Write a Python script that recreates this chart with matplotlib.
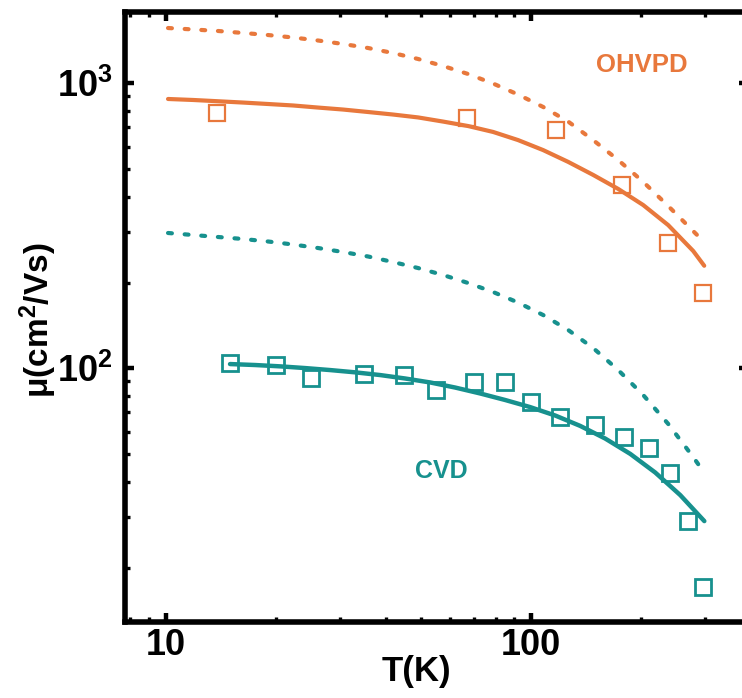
import matplotlib
matplotlib.use("Agg")
import matplotlib.pyplot as plt
from matplotlib.ticker import LogLocator, NullFormatter, FixedLocator, FixedFormatter

plt.rcParams['font.family'] = ['Liberation Sans', 'DejaVu Sans']
plt.rcParams['font.weight'] = 'bold'
plt.rcParams['mathtext.fontset'] = 'custom'
plt.rcParams['mathtext.rm'] = 'Liberation Sans:bold'
plt.rcParams['mathtext.bf'] = 'Liberation Sans:bold'
plt.rcParams['mathtext.it'] = 'Liberation Sans:bold:italic'
plt.rcParams['mathtext.default'] = 'rm'

# ---------------- data ----------------
T_ohvpd = [13.8, 67, 117, 178, 238, 295]
mu_ohvpd = [787, 756, 686, 440, 275, 184]

T_cvd = [15, 20, 25, 35, 45, 55, 70, 85, 100, 120, 150, 180, 210, 240, 270, 295]
mu_cvd = [104, 102.7, 92.5, 95.5, 95, 83.9, 89.5, 89.5, 76.2, 67.5, 63.2, 57.4,
          52.5, 42.9, 29.1, 17.1]

T_ohvpd_fit = [10.14, 11.87, 13.90, 16.27, 19.05, 22.31, 26.12, 30.58, 35.81, 41.92,
               49.09, 57.47, 67.29, 78.78, 92.23, 107.99, 126.44, 148.04, 173.34,
               202.95, 237.62, 278.2, 298.2]
mu_ohvpd_fit = [881, 874, 865, 856, 846, 836, 822, 809, 793, 777, 759, 734, 708, 675,
                632, 583, 530, 477, 426, 374, 318, 258, 229]

T_ohvpd_lim = [10.14, 11.87, 13.90, 16.27, 19.05, 22.31, 26.12, 30.58, 35.81, 41.92,
               49.09, 57.47, 67.29, 78.78, 92.23, 107.99, 126.44, 148.04, 173.34,
               202.95, 237.62, 278.2, 287.1]
mu_ohvpd_lim = [1563, 1545, 1526, 1502, 1477, 1448, 1413, 1374, 1330, 1277, 1217, 1150,
                1078, 998, 913, 826, 734, 632, 538, 451, 371, 303, 291]

T_cvd_fit = [14.99, 17.55, 20.55, 24.07, 28.18, 33.00, 38.64, 45.24, 52.97, 62.03,
             72.62, 85.04, 99.50, 116.5, 136.4, 159.7, 187.0, 218.9, 256.4, 298.4]
mu_cvd_fit = [103.5, 102.7, 101.6, 100.2, 98.6, 96.8, 94.7, 92.1, 89.2, 85.6, 81.6,
              77.4, 73.1, 68.3, 62.8, 56.7, 50.1, 43.1, 35.9, 29.1]

T_cvd_lim = [10.14, 11.87, 13.90, 16.27, 19.05, 22.31, 26.12, 30.58, 35.81, 41.92,
             49.09, 57.47, 67.29, 78.78, 92.23, 107.99, 126.44, 148.04, 173.34,
             202.95, 237.62, 278.2, 287.1]
mu_cvd_lim = [298.4, 293.6, 288.9, 284.3, 278.6, 271.9, 264.3, 255.9, 246.8, 236.0,
              224.8, 212.5, 199.2, 185.2, 170.1, 153.8, 136.3, 117.8, 98.6, 80.6,
              63.8, 48.8, 46.1]

x_ticks = [10, 100]
x_ticklabels = ['10', '100']
y_ticks = [100, 1000]
y_ticklabels = [r'$10^{2}$', r'$10^{3}$']

ORANGE = '#E8783C'
TEAL = '#17918E'

# ---------------- figure ----------------
fig = plt.figure(figsize=(7.42, 6.98), dpi=100)
ax = fig.add_axes([125 / 742, 76 / 698, 623 / 742, 610 / 698])
ax.set_xscale('log')
ax.set_yscale('log')
ax.set_xlim(7.73, 393)
ax.set_ylim(12.88, 1779)

dash = (0.93, 3.07)
ax.plot(T_ohvpd, mu_ohvpd, 's', ms=11.5, mfc='none', mec=ORANGE, mew=1.6, zorder=2)
ax.plot(T_ohvpd_fit, mu_ohvpd_fit, '-', color=ORANGE, lw=3, solid_capstyle='round',
        solid_joinstyle='round', zorder=3)
ax.plot(T_ohvpd_lim, mu_ohvpd_lim, color=ORANGE, lw=3, dashes=dash,
        dash_capstyle='round', zorder=3)

ax.plot(T_cvd, mu_cvd, 's', ms=11.5, mfc='none', mec=TEAL, mew=2.0, zorder=2)
ax.plot(T_cvd_fit, mu_cvd_fit, '-', color=TEAL, lw=3.2, solid_capstyle='round',
        solid_joinstyle='round', zorder=3)
ax.plot(T_cvd_lim, mu_cvd_lim, color=TEAL, lw=3, dashes=dash,
        dash_capstyle='round', zorder=3)

ax.text(0.83, 0.913, 'OHVPD', transform=ax.transAxes, color=ORANGE, fontsize=18.5,
        fontweight='bold', ha='center', va='center')
ax.text(0.507, 0.2475, 'CVD', transform=ax.transAxes, color=TEAL, fontsize=18,
        fontweight='bold', ha='center', va='center')

# ticks
ax.xaxis.set_major_locator(FixedLocator(x_ticks))
ax.xaxis.set_major_formatter(FixedFormatter(x_ticklabels))
ax.xaxis.set_minor_locator(LogLocator(base=10, subs=range(2, 10), numticks=20))
ax.xaxis.set_minor_formatter(NullFormatter())
ax.yaxis.set_major_locator(FixedLocator(y_ticks))
ax.yaxis.set_major_formatter(FixedFormatter(y_ticklabels))
ax.yaxis.set_minor_locator(LogLocator(base=10, subs=range(2, 10), numticks=20))
ax.yaxis.set_minor_formatter(NullFormatter())

ax.tick_params(which='both', direction='in', top=True, right=True, bottom=True, left=True)
ax.tick_params(which='major', length=6.5, width=3.2, labelsize=26)
ax.tick_params(which='minor', length=3.5, width=2.4)
ax.tick_params(axis='y', which='major', pad=9)
ax.tick_params(axis='x', which='major', pad=4)

for s in ax.spines.values():
    s.set_linewidth(4)

fig.text(416 / 742, 1 - 671 / 698, 'T(K)', fontsize=25, fontweight='bold',
         ha='center', va='center')
fig.text(38 / 742, 1 - 320 / 698, r'μ(cm$^{2}$/Vs)', fontsize=24, fontweight='bold',
         ha='center', va='center', rotation=90)

fig.savefig('out.png', dpi=100)
